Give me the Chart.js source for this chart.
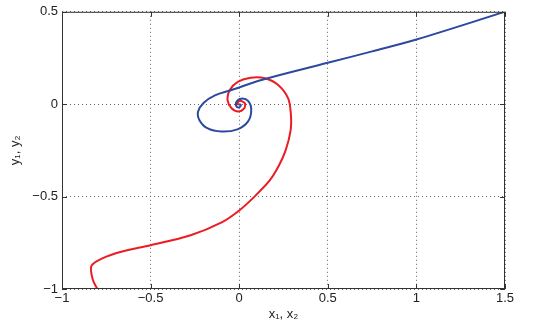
<!DOCTYPE html>
<html>
<head>
<meta charset="utf-8">
<script src="https://cdn.jsdelivr.net/npm/chart.js@4"></script>
<style>
  html, body { margin: 0; padding: 0; background: #fff; }
  #wrap { width: 550px; height: 327px; position: relative; }
</style>
</head>
<body>
<div id="wrap"><canvas id="chart"></canvas></div>
<script>
// Blue trajectory (x1, y1), from the start at (1.5, 0.5) spiralling into the origin
const blueX = [1.5, 1.0, 0.75, 0.5, 0.126, -0.043, -0.137, -0.2, -0.232, -0.225, -0.18, -0.1, -0.01, 0.05, 0.068, 0.05, 0.012, -0.016, -0.015, 0.0, 0.009, 0.0];
const blueY = [0.5, 0.35, 0.286, 0.224, 0.131, 0.077, 0.048, 0.008, -0.04, -0.085, -0.13, -0.148, -0.136, -0.093, -0.03, 0.018, 0.03, 0.012, -0.012, -0.017, -0.004, 0.0];

// Red trajectory (x2, y2), from the bottom spiralling into the origin
const redX = [-0.8, -0.826, -0.834, -0.772, -0.666, -0.5, -0.274, -0.096, 0.0, 0.082, 0.171, 0.225, 0.262, 0.29, 0.292, 0.277, 0.22, 0.145, 0.065, -0.006, -0.053, -0.066, -0.043, -0.006, 0.028, 0.032, 0.004, -0.015, 0.0];
const redY = [-1.0, -0.95, -0.875, -0.834, -0.798, -0.763, -0.709, -0.638, -0.575, -0.504, -0.414, -0.33, -0.25, -0.143, -0.06, 0.03, 0.104, 0.14, 0.143, 0.122, 0.077, 0.023, -0.022, -0.039, -0.022, 0.005, 0.018, 0.0, 0.0];

const xTicks = [-1, -0.5, 0, 0.5, 1, 1.5];
const yTicks = [-1, -0.5, 0, 0.5];

const toPoints = (xs, ys) => xs.map((x, i) => ({ x: x, y: ys[i] }));
const fmt = v => String(v).replace('-', '\u2212');

// box around the plot area plus small inward tick marks, matlab style
const boxPlugin = {
    id: 'box',
    afterDraw(chart) {
        const { ctx, chartArea: a, scales } = chart;
        ctx.save();
        ctx.strokeStyle = '#333';
        ctx.lineWidth = 1;
        ctx.strokeRect(a.left + 0.5, a.top + 0.5, a.right - a.left - 1, a.bottom - a.top - 1);
        ctx.beginPath();
        xTicks.forEach(t => {
            const px = Math.round(scales.x.getPixelForValue(t)) + 0.5;
            ctx.moveTo(px, a.bottom); ctx.lineTo(px, a.bottom - 5);
            ctx.moveTo(px, a.top); ctx.lineTo(px, a.top + 5);
        });
        yTicks.forEach(t => {
            const py = Math.round(scales.y.getPixelForValue(t)) + 0.5;
            ctx.moveTo(a.left, py); ctx.lineTo(a.left + 5, py);
            ctx.moveTo(a.right, py); ctx.lineTo(a.right - 5, py);
        });
        ctx.stroke();
        ctx.restore();
    }
};

const font = { family: 'Liberation Sans, Arial, sans-serif', size: 13 };

new Chart(document.getElementById('chart'), {
    type: 'scatter',
    data: {
        datasets: [
            {
                data: toPoints(blueX, blueY),
                showLine: true,
                borderColor: '#2b4a9f',
                borderWidth: 2,
                pointRadius: 0,
                tension: 0.35,
                fill: false
            },
            {
                data: toPoints(redX, redY),
                showLine: true,
                borderColor: '#ec1c24',
                borderWidth: 2,
                pointRadius: 0,
                tension: 0.3,
                fill: false
            }
        ]
    },
    options: {
        responsive: true,
        maintainAspectRatio: false,
        animation: false,
        layout: { padding: { top: 10, right: 45, bottom: 5, left: 4 } },
        plugins: {
            legend: { display: false },
            tooltip: { enabled: false }
        },
        scales: {
            x: {
                type: 'linear',
                min: -1,
                max: 1.5,
                afterBuildTicks: s => { s.ticks = xTicks.map(v => ({ value: v })); },
                afterFit: s => { s.height = 33; },
                ticks: { callback: fmt, font: font, color: '#222', padding: 2, maxRotation: 0 },
                grid: { color: '#666', drawTicks: false },
                border: { display: false, dash: [1, 3] },
                title: {
                    display: true,
                    text: 'x\u2081, x\u2082',
                    font: font,
                    color: '#222',
                    padding: { top: 0, bottom: 0 }
                }
            },
            y: {
                type: 'linear',
                min: -1,
                max: 0.5,
                afterBuildTicks: s => { s.ticks = yTicks.map(v => ({ value: v })); },
                afterFit: s => { s.width = 58; },
                ticks: { callback: fmt, font: font, color: '#222', padding: 4 },
                grid: { color: '#666', drawTicks: false },
                border: { display: false, dash: [1, 3] },
                title: {
                    display: true,
                    text: 'y\u2081, y\u2082',
                    font: font,
                    color: '#222',
                    padding: { top: 4, bottom: 0 }
                }
            }
        }
    },
    plugins: [boxPlugin]
});
</script>
</body>
</html>
